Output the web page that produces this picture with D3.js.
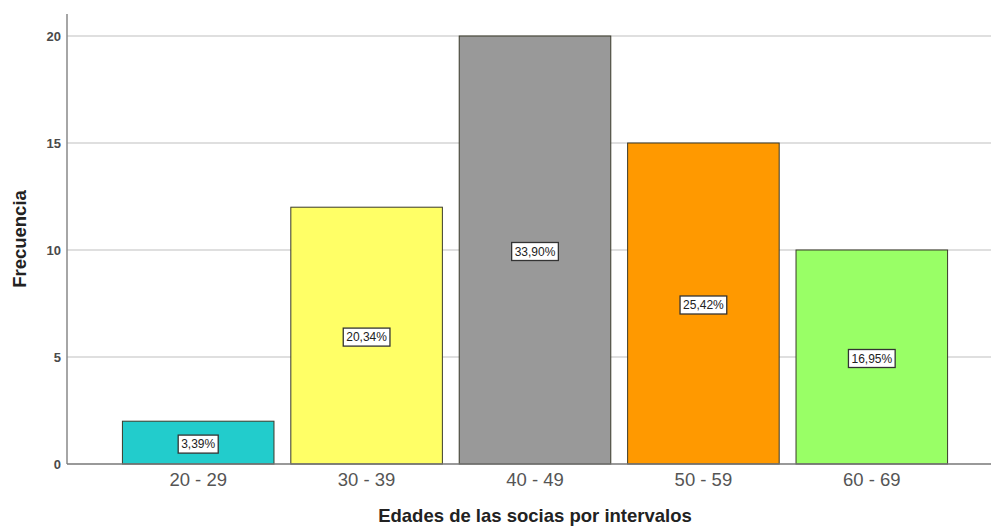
<!DOCTYPE html>
<html><head><meta charset="utf-8">
<script src="https://cdn.jsdelivr.net/npm/d3@7"></script>
<style>body{margin:0;background:#fff}svg{display:block}</style>
</head><body>
<script>
const categories = ["20 - 29","30 - 39","40 - 49","50 - 59","60 - 69"];
const frequencies = [2,12,20,15,10];
const percentLabels = ["3,39%","20,34%","33,90%","25,42%","16,95%"];
const barColors = ["#22CCCC","#FFFF66","#999999","#FF9900","#99FF66"];
const yTicks = [0,5,10,15,20];

const W=991,H=528;
const FONT="Liberation Sans, Arial, sans-serif";
const svg=d3.select("body").append("svg").attr("width",W).attr("height",H);
const x=d3.scaleBand().domain(categories).range([114,956]).paddingInner(0.1).paddingOuter(0.05);
const y=d3.scaleLinear().domain([0,20]).range([464,36]);
const axisX=67, axisTop=14, gridRight=991;

// gridlines
svg.append("g").selectAll("line").data(yTicks.filter(d=>d>0)).join("line")
  .attr("x1",axisX).attr("x2",gridRight).attr("y1",d=>y(d)).attr("y2",d=>y(d))
  .attr("stroke","#d4d4d4").attr("stroke-width",1.3);

// y axis
const ya=svg.append("g").attr("transform",`translate(${axisX},0)`)
  .call(d3.axisLeft(y).tickValues(yTicks).tickSize(0).tickPadding(6));
ya.select(".domain").remove();
ya.selectAll("text").attr("font-family",FONT).attr("font-size",13).attr("font-weight","bold").attr("fill","#4a4a4a");
svg.append("line").attr("x1",axisX).attr("x2",axisX).attr("y1",axisTop).attr("y2",y(0)).attr("stroke","#888").attr("stroke-width",1.5);

// bars
svg.append("g").selectAll("rect").data(categories).join("rect")
  .attr("x",d=>x(d)).attr("width",x.bandwidth())
  .attr("y",(d,i)=>y(frequencies[i])).attr("height",(d,i)=>y(0)-y(frequencies[i]))
  .attr("fill",(d,i)=>barColors[i]).attr("stroke","#3a3a2a").attr("stroke-width",1);

// x axis line
svg.append("line").attr("x1",axisX).attr("x2",gridRight).attr("y1",y(0)).attr("y2",y(0)).attr("stroke","#777").attr("stroke-width",1.5);

// x tick labels
const xa=svg.append("g").attr("transform",`translate(0,${y(0)})`)
  .call(d3.axisBottom(x).tickSize(0).tickPadding(9));
xa.select(".domain").remove();
xa.selectAll("text").attr("font-family",FONT).attr("font-size",18.5).attr("fill","#555");

// percent labels
const lg=svg.append("g").selectAll("g").data(categories).join("g")
  .attr("transform",(d,i)=>`translate(${x(d)+x.bandwidth()/2},${(y(frequencies[i])+y(0))/2+1.5})`);
const rects=lg.append("rect").attr("fill","#fff").attr("stroke","#333").attr("stroke-width",1.3);
const texts=lg.append("text").text((d,i)=>percentLabels[i]).attr("text-anchor","middle").attr("dy","0.36em")
  .attr("font-family",FONT).attr("font-size",12).attr("fill","#222");
texts.each(function(d,i){
  const w=this.getComputedTextLength();
  d3.select(rects.nodes()[i]).attr("x",-w/2-3).attr("y",-9).attr("width",w+6).attr("height",18);
});

// axis titles
svg.append("text").text("Edades de las socias por intervalos").attr("x",535).attr("y",522)
  .attr("text-anchor","middle").attr("font-family",FONT)
  .attr("font-size",18.5).attr("font-weight","bold").attr("fill","#222");
svg.append("text").text("Frecuencia").attr("transform","translate(26,239) rotate(-90)")
  .attr("text-anchor","middle").attr("font-family",FONT)
  .attr("font-size",18.5).attr("font-weight","bold").attr("fill","#222");
</script>
</body></html>
